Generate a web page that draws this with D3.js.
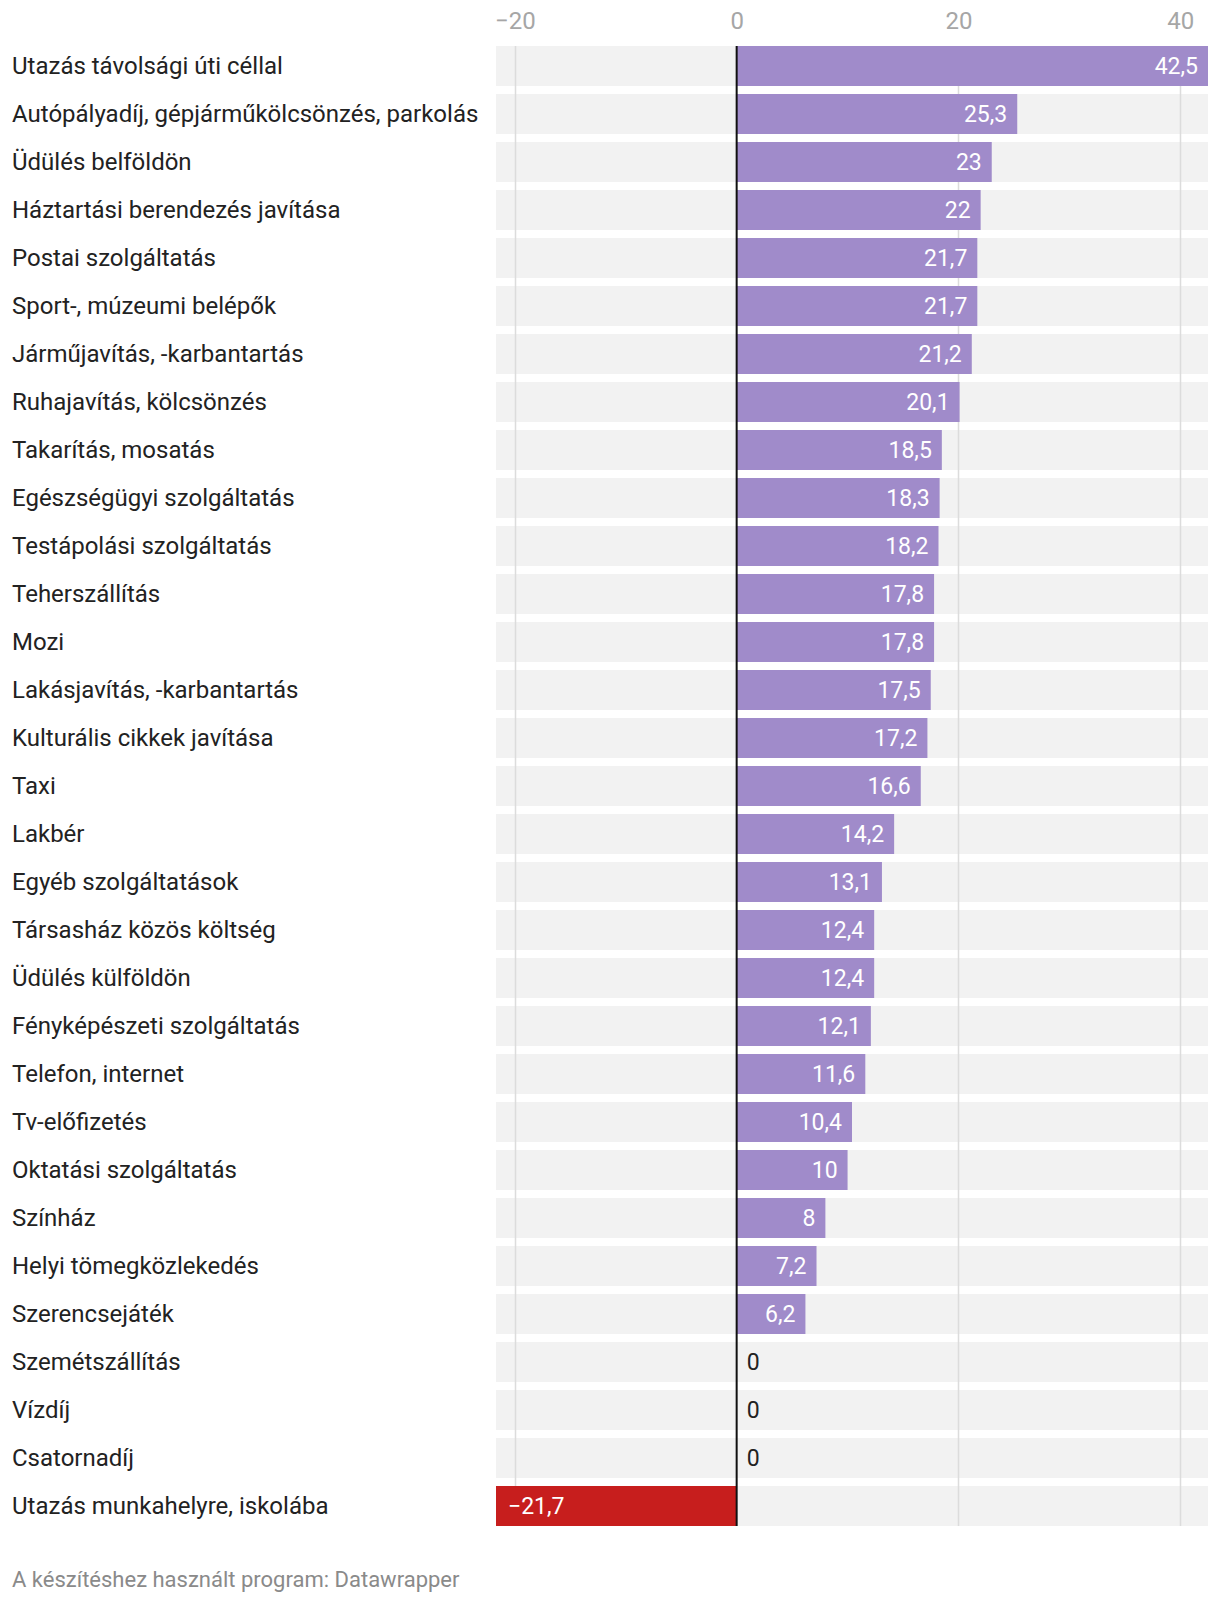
<!DOCTYPE html>
<html>
<head>
<meta charset="utf-8">
<script src="https://cdn.jsdelivr.net/npm/d3@7"></script>
<style>
  html, body { margin: 0; padding: 0; background: #fff; }
  svg { display: block; font-family: Roboto, "Noto Sans", sans-serif; }
</style>
</head>
<body>
<svg id="chart" width="1220" height="1602"></svg>
<script>
const categories = [
  "Utazás távolsági úti céllal",
  "Autópályadíj, gépjárműkölcsönzés, parkolás",
  "Üdülés belföldön",
  "Háztartási berendezés javítása",
  "Postai szolgáltatás",
  "Sport-, múzeumi belépők",
  "Járműjavítás, -karbantartás",
  "Ruhajavítás, kölcsönzés",
  "Takarítás, mosatás",
  "Egészségügyi szolgáltatás",
  "Testápolási szolgáltatás",
  "Teherszállítás",
  "Mozi",
  "Lakásjavítás, -karbantartás",
  "Kulturális cikkek javítása",
  "Taxi",
  "Lakbér",
  "Egyéb szolgáltatások",
  "Társasház közös költség",
  "Üdülés külföldön",
  "Fényképészeti szolgáltatás",
  "Telefon, internet",
  "Tv-előfizetés",
  "Oktatási szolgáltatás",
  "Színház",
  "Helyi tömegközlekedés",
  "Szerencsejáték",
  "Szemétszállítás",
  "Vízdíj",
  "Csatornadíj",
  "Utazás munkahelyre, iskolába"
];
const values = [42.5, 25.3, 23, 22, 21.7, 21.7, 21.2, 20.1, 18.5, 18.3, 18.2, 17.8, 17.8, 17.5, 17.2, 16.6, 14.2, 13.1, 12.4, 12.4, 12.1, 11.6, 10.4, 10, 8, 7.2, 6.2, 0, 0, 0, -21.7];
const tickValues = [-20, 0, 20, 40];
const footerText = "A készítéshez használt program: Datawrapper";

const data = categories.map((c, i) => ({ cat: c, val: values[i] }));
const svg = d3.select("#chart");

const xLeft = 496, xRight = 1208;
const yTop = 46, yBottom = 1526;

const x = d3.scaleLinear()
  .domain([d3.min(values), d3.max(values)])
  .range([xLeft, xRight]);

const y = d3.scaleBand()
  .domain(categories)
  .range([yTop, yBottom])
  .paddingInner(8 / 48)
  .paddingOuter(0);

const fmt = v => (v < 0 ? "\u2212" : "") + String(Math.abs(v)).replace(".", ",");

// row backgrounds
svg.append("g").selectAll("rect")
  .data(data).join("rect")
  .attr("x", xLeft)
  .attr("width", xRight - xLeft)
  .attr("y", d => y(d.cat))
  .attr("height", y.bandwidth())
  .attr("fill", "#f2f2f2");

// grid lines
svg.append("g").selectAll("line")
  .data(tickValues.filter(t => t !== 0)).join("line")
  .attr("x1", d => Math.round(x(d)) + 0.5)
  .attr("x2", d => Math.round(x(d)) + 0.5)
  .attr("y1", yTop)
  .attr("y2", yBottom)
  .attr("stroke", "#dcdcdc")
  .attr("stroke-width", 1.5);

// tick labels
const axis = d3.axisTop(x).tickValues(tickValues).tickSize(0).tickFormat(fmt);
const axisG = svg.append("g").attr("transform", "translate(0,32)").call(axis);
axisG.select(".domain").remove();
axisG.selectAll("text")
  .attr("font-family", "Roboto, sans-serif")
  .attr("font-size", 24)
  .attr("fill", "#a6a6a6")
  .attr("dy", 0);

// bars
svg.append("g").selectAll("rect")
  .data(data).join("rect")
  .attr("x", d => x(Math.min(0, d.val)))
  .attr("width", d => Math.abs(x(d.val) - x(0)))
  .attr("y", d => y(d.cat))
  .attr("height", y.bandwidth())
  .attr("fill", d => d.val < 0 ? "#c71e1d" : "#a08bca");

// zero line
svg.append("line")
  .attr("x1", x(0)).attr("x2", x(0))
  .attr("y1", yTop).attr("y2", yBottom)
  .attr("stroke", "#111").attr("stroke-width", 2);

// category labels
svg.append("g").selectAll("text")
  .data(data).join("text")
  .attr("x", 12)
  .attr("y", d => y(d.cat) + y.bandwidth() / 2)
  .attr("dy", "0.32em")
  .attr("font-size", 24)
  .attr("fill", "#222")
  .text(d => d.cat);

// value labels
svg.append("g").selectAll("text")
  .data(data).join("text")
  .attr("x", d => d.val > 0 ? x(d.val) - 10 : (d.val < 0 ? x(d.val) + 12 : x(0) + 10))
  .attr("text-anchor", d => d.val > 0 ? "end" : "start")
  .attr("y", d => y(d.cat) + y.bandwidth() / 2)
  .attr("dy", "0.36em")
  .attr("font-size", 23)
  .attr("fill", d => d.val === 0 ? "#222" : "#fff")
  .text(d => fmt(d.val));

// footer
svg.append("text")
  .attr("x", 12)
  .attr("y", 1587)
  .attr("font-size", 22)
  .attr("fill", "#8a8a8a")
  .text(footerText);
</script>
</body>
</html>
